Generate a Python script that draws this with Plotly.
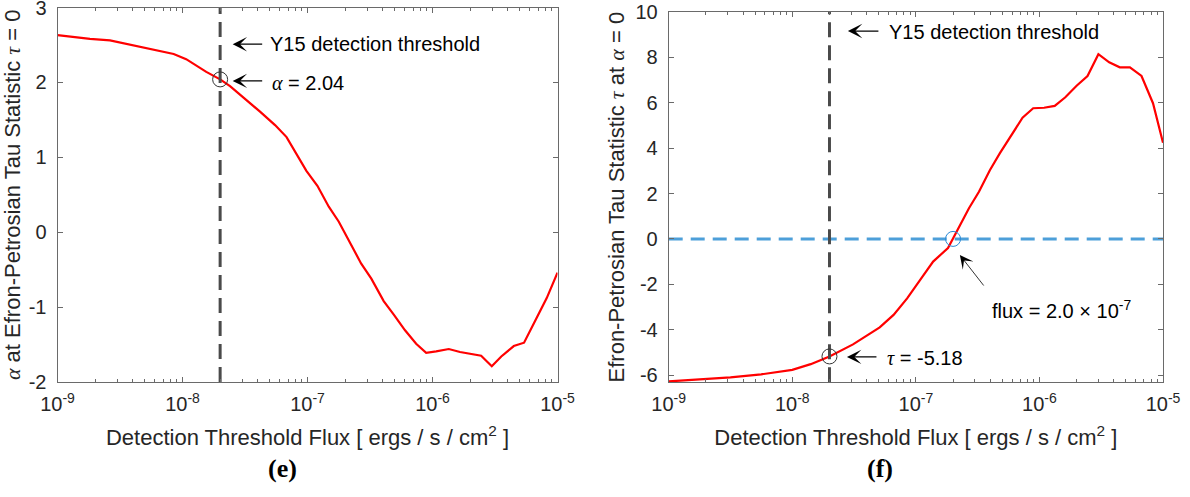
import math
import plotly.graph_objects as go

# ---------------- data ----------------
flux_e = [1.0e-9, 1.82e-9, 2.63e-9, 4.07e-9, 6.17e-9, 8.5e-9, 1.07e-8, 1.55e-8, 2.0e-8,
          2.4e-8, 4.17e-8, 5.5e-8, 6.8e-8, 9.8e-8, 1.2e-7, 1.48e-7, 1.78e-7, 2.19e-7,
          2.69e-7, 3.24e-7, 4.07e-7, 4.9e-7, 6.03e-7, 7.4e-7, 8.9e-7, 1.07e-6, 1.35e-6,
          1.66e-6, 2.45e-6, 2.98e-6, 3.55e-6, 4.47e-6, 5.4e-6, 6.6e-6, 8.2e-6, 1.0e-5]
alpha_e = [2.63, 2.58, 2.56, 2.49, 2.43, 2.38, 2.31, 2.14, 2.04,
           1.95, 1.61, 1.43, 1.27, 0.82, 0.62, 0.34, 0.14, -0.15,
           -0.42, -0.62, -0.92, -1.10, -1.31, -1.49, -1.61, -1.59, -1.56,
           -1.60, -1.65, -1.79, -1.66, -1.52, -1.475, -1.19, -0.88, -0.54]

flux_f = [1.0e-9, 1.78e-9, 3.16e-9, 5.6e-9, 1.0e-8, 1.41e-8, 2.0e-8, 3.1e-8, 5.1e-8,
          6.6e-8, 8.5e-8, 1.07e-7, 1.38e-7, 1.82e-7, 2.19e-7, 2.69e-7, 3.24e-7, 3.98e-7,
          4.79e-7, 5.96e-7, 7.3e-7, 8.9e-7, 1.09e-6, 1.33e-6, 1.62e-6, 2.0e-6, 2.45e-6,
          3.0e-6, 3.67e-6, 4.47e-6, 5.4e-6, 6.7e-6, 8.3e-6, 1.0e-5]
tau_f = [-6.28, -6.20, -6.10, -5.97, -5.77, -5.52, -5.18, -4.65, -3.90,
         -3.35, -2.62, -1.85, -1.00, -0.40, 0.40, 1.35, 2.08, 3.04,
         3.78, 4.58, 5.34, 5.76, 5.78, 5.86, 6.24, 6.75, 7.18,
         8.14, 7.78, 7.56, 7.56, 7.18, 5.98, 4.24]

threshold_flux = 2.0e-8
alpha_at_threshold = 2.04
tau_at_threshold = -5.18
zero_cross_flux = 2.0e-7
tau_zero = 0.0

x_range = [1e-9, 1e-5]
yrange_e = [-2, 3]
yrange_f = [-6.32, 10]
xtick_vals = [1e-9, 1e-8, 1e-7, 1e-6, 1e-5]
xtick_text = ["10<sup>-9</sup>", "10<sup>-8</sup>", "10<sup>-7</sup>", "10<sup>-6</sup>", "10<sup>-5</sup>"]
ytick_e = [-2, -1, 0, 1, 2, 3]
ytick_e_text = ["-2", "-1", "0", "1", "2", "3"]
ytick_f = [-6, -4, -2, 0, 2, 4, 6, 8, 10]
ytick_f_text = ["-6", "-4", "-2", "0", "2", "4", "6", "8", "10"]

# ---------------- style ----------------
W, H = 1190, 497
FONT = "Liberation Sans, Arial, sans-serif"
AXC = "#6a6a6a"
TXT = "#262626"
GR = "font-family:Liberation Serif;font-style:italic"
ALPHA = f'<span style="{GR}">α</span>'
TAU = f'<span style="{GR}">τ</span>'
TICK_SIZE = 20
TITLE_SIZE = 22
ANN_SIZE = 20


def xdom(a, b):
    return [a / W, b / W]


def ydom(top, bottom):
    return [1 - bottom / H, 1 - top / H]


fig = go.Figure()

# panel (e)
fig.add_trace(go.Scatter(x=flux_e, y=alpha_e, mode="lines",
                         line=dict(color="#ff0000", width=2.2), xaxis="x", yaxis="y"))
fig.add_trace(go.Scatter(x=[threshold_flux, threshold_flux], y=yrange_e, mode="lines",
                         line=dict(color="#4a4a4a", width=3, dash="15px,8px"), xaxis="x", yaxis="y"))
fig.add_trace(go.Scatter(x=[threshold_flux], y=[alpha_at_threshold], mode="markers",
                         marker=dict(symbol="circle-open", size=15, color="#333333", line=dict(width=1)),
                         xaxis="x", yaxis="y"))

# panel (f)
fig.add_trace(go.Scatter(x=flux_f, y=tau_f, mode="lines",
                         line=dict(color="#ff0000", width=2.2), xaxis="x2", yaxis="y2"))
fig.add_trace(go.Scatter(x=x_range, y=[tau_zero, tau_zero], mode="lines",
                         line=dict(color="#4d9fd9", width=3, dash="14px,8px"), xaxis="x2", yaxis="y2"))
fig.add_trace(go.Scatter(x=[threshold_flux, threshold_flux], y=yrange_f, mode="lines",
                         line=dict(color="#4a4a4a", width=3, dash="15px,8px"), xaxis="x2", yaxis="y2"))
fig.add_trace(go.Scatter(x=[threshold_flux], y=[tau_at_threshold], mode="markers",
                         marker=dict(symbol="circle-open", size=15, color="#333333", line=dict(width=1)),
                         xaxis="x2", yaxis="y2"))
fig.add_trace(go.Scatter(x=[zero_cross_flux], y=[tau_zero], mode="markers",
                         marker=dict(symbol="circle-open", size=15, color="#2b8ad6", line=dict(width=1)),
                         xaxis="x2", yaxis="y2"))

common_x = dict(type="log", range=[math.log10(x_range[0]), math.log10(x_range[1])],
                tickvals=xtick_vals, ticktext=xtick_text, ticks="inside", ticklen=5,
                tickcolor=AXC, showline=True, linecolor=AXC, linewidth=1, mirror="ticks",
                showgrid=False, zeroline=False, ticklabelstandoff=4, automargin=False,
                ticklabeloverflow="allow",
                minor=dict(ticks="inside", ticklen=3, tickcolor=AXC, dtick="D1", showgrid=False),
                tickfont=dict(family=FONT, size=TICK_SIZE, color=TXT))
common_y = dict(ticks="inside", ticklen=5, tickcolor=AXC, showline=True, linecolor=AXC,
                linewidth=1, mirror="ticks", showgrid=False, zeroline=False, ticklabelstandoff=6,
                automargin=False, ticklabeloverflow="allow",
                tickfont=dict(family=FONT, size=TICK_SIZE, color=TXT))

xtitle = "Detection Threshold Flux [ ergs / s / cm<sup>2</sup> ]"

fig.update_layout(
    width=W, height=H, margin=dict(l=0, r=0, t=0, b=0, autoexpand=False),
    paper_bgcolor="white", plot_bgcolor="white", showlegend=False,
    font=dict(family=FONT, color=TXT),
    xaxis=dict(common_x, domain=xdom(57.5, 557.5), anchor="y",
               title=dict(text=xtitle, font=dict(size=TITLE_SIZE, family=FONT, color=TXT), standoff=15)),
    yaxis=dict(common_y, domain=ydom(7.5, 382), anchor="x", range=yrange_e,
               tickvals=ytick_e, ticktext=ytick_e_text,
               title=dict(text=f"{ALPHA} at Efron-Petrosian Tau Statistic {TAU} = 0",
                          font=dict(size=TITLE_SIZE, family=FONT, color=TXT), standoff=2)),
    xaxis2=dict(common_x, domain=xdom(668.7, 1163), anchor="y2",
                title=dict(text=xtitle, font=dict(size=TITLE_SIZE, family=FONT, color=TXT), standoff=15)),
    yaxis2=dict(common_y, domain=ydom(12, 382.3), anchor="x2", range=yrange_f,
                tickvals=ytick_f, ticktext=ytick_f_text,
                title=dict(text=f"Efron-Petrosian Tau Statistic {TAU} at {ALPHA} = 0",
                           font=dict(size=TITLE_SIZE, family=FONT, color=TXT), standoff=4)),
)

ANN_FONT = dict(family=FONT, size=ANN_SIZE, color="#000000")


def arrow(xref, yref, x, y, ax, ay, width=1.2, size=2.0):
    fig.add_annotation(xref=xref, yref=yref, x=math.log10(x), y=y, text="",
                       showarrow=True, ax=ax, ay=ay, axref="pixel", ayref="pixel",
                       arrowhead=3, arrowsize=size, arrowwidth=width, arrowcolor="#000000",
                       standoff=0, startstandoff=0)


def label(xref, yref, x, y, text):
    fig.add_annotation(xref=xref, yref=yref, x=math.log10(x), y=y, text=text,
                       showarrow=False, xanchor="left", yanchor="middle", font=ANN_FONT)


# panel (e) annotations
arrow("x", "y", 2.52e-8, 2.51, 31, 0)
label("x", "y", 4.83e-8, 2.51, "Y15 detection threshold")
arrow("x", "y", 2.52e-8, 2.02, 31, 0)
label("x", "y", 5.0e-8, 1.99, f"{ALPHA} = 2.04")

# panel (f) annotations
arrow("x2", "y2", 2.82e-8, 9.16, 32, 0)
label("x2", "y2", 5.83e-8, 9.10, "Y15 detection threshold")
arrow("x2", "y2", 2.77e-8, -5.20, 31, 0)
label("x2", "y2", 5.62e-8, -5.25, f"{TAU} = -5.18")
arrow("x2", "y2", 2.27e-7, -0.71, 25, 32, width=0.8, size=2.8)
label("x2", "y2", 3.98e-7, -3.13, "flux = 2.0 × 10<sup>-7</sup>")

# panel letters
fig.add_annotation(xref="paper", yref="paper", x=282 / W, y=1 - 468 / H,
                   text="<b>(e)</b>", showarrow=False, xanchor="center", yanchor="middle",
                   font=dict(family="Liberation Serif, serif", size=26, color="#000000"))
fig.add_annotation(xref="paper", yref="paper", x=880 / W, y=1 - 468 / H,
                   text="<b>(f)</b>", showarrow=False, xanchor="center", yanchor="middle",
                   font=dict(family="Liberation Serif, serif", size=26, color="#000000"))

fig.write_html("out.html", config={"displayModeBar": False},
               post_script="document.body.style.margin='0';document.body.style.overflow='hidden';")
